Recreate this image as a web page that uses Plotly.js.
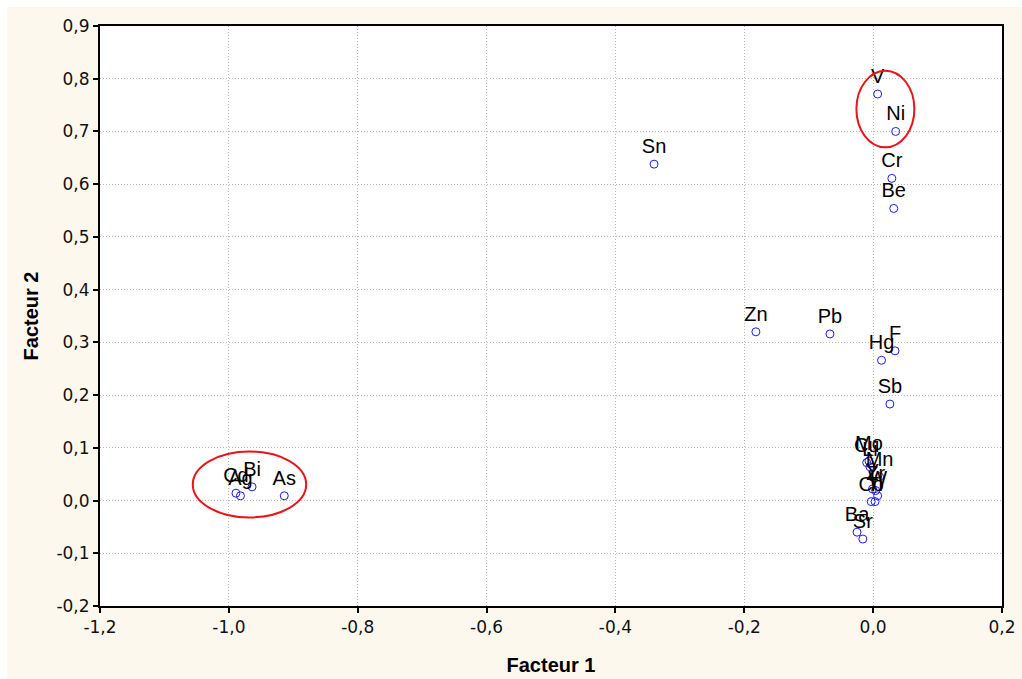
<!DOCTYPE html>
<html>
<head>
<meta charset="utf-8">
<script src="https://cdn.plot.ly/plotly-3.0.1.min.js"></script>
<style>
  html, body { margin: 0; padding: 0; background: #ffffff; width: 1022px; height: 679px; overflow: hidden; }
  #chart { position: absolute; left: 7px; top: 7px; width: 1015px; height: 672px; }
</style>
</head>
<body>
<div id="chart"></div>
<script>
// Element labels and factor loadings
const elements = ["Sn","Zn","Pb","V","Ni","Cr","Be","F","Hg","Sb",
                  "Cd","Ag","Bi","As",
                  "Mo","Cu","Li","Mn","Zr","Y","W","Co","Ti","Ba","Sr"];
const facteur1 = [-0.340,-0.182,-0.067,0.007,0.035,0.029,0.032,0.034,0.013,0.026,
                  -0.989,-0.982,-0.964,-0.914,
                  -0.0065,-0.010,-0.005,0.010,0.004,-0.001,0.007,-0.003,0.003,-0.025,-0.016];
const facteur2 = [0.638,0.320,0.316,0.771,0.700,0.611,0.554,0.284,0.266,0.183,
                  0.014,0.009,0.026,0.009,
                  0.075,0.072,0.064,0.045,0.019,0.022,0.009,-0.002,-0.002,-0.060,-0.073];

const xTickVals = [-1.2,-1.0,-0.8,-0.6,-0.4,-0.2,0.0,0.2];
const xTickText = ["-1,2","-1,0","-0,8","-0,6","-0,4","-0,2","0,0","0,2"];
const yTickVals = [-0.2,-0.1,0.0,0.1,0.2,0.3,0.4,0.5,0.6,0.7,0.8,0.9];
const yTickText = ["-0,2","-0,1","0,0","0,1","0,2","0,3","0,4","0,5","0,6","0,7","0,8","0,9"];

// Highlight ellipses (data coordinates)
const ellipseLeft  = {x0:-1.056, x1:-0.880, y0:-0.032, y1:0.093};
const ellipseRight = {x0:-0.026, x1:0.064, y0:0.670, y1:0.815};

const trace = {
  type: "scatter",
  mode: "markers+text",
  x: facteur1,
  y: facteur2,
  text: elements,
  textposition: "top center",
  textfont: {family: "Liberation Sans, Arial, sans-serif", size: 20, color: "#000000"},
  marker: {symbol: "circle-open", size: 8, color: "#1a1aff", line: {width: 1, color: "#1a1aff"}},
  cliponaxis: false,
  hoverinfo: "x+y+text"
};

const axisCommon = {
  showline: true, mirror: true, linecolor: "#000000", linewidth: 2,
  ticks: "outside", ticklen: 5, tickwidth: 2, tickcolor: "#000000",
  showgrid: true, gridcolor: "#b8b8b8", griddash: "1px,2px", gridwidth: 1,
  zeroline: false,
  tickfont: {family: "DejaVu Sans, sans-serif", size: 17, color: "#111111"},
  tickmode: "array"
};

const titleFont = {family: "Liberation Sans, Arial, sans-serif", size: 20, color: "#000000", weight: "bold"};

const layout = {
  width: 1015, height: 672,
  margin: {l: 93, r: 20, t: 19, b: 73},
  paper_bgcolor: "#fdf8ee",
  plot_bgcolor: "#ffffff",
  showlegend: false,
  xaxis: Object.assign({}, axisCommon, {
    range: [-1.2, 0.2], tickvals: xTickVals, ticktext: xTickText,
    title: {text: "Facteur 1", font: titleFont, standoff: 22}
  }),
  yaxis: Object.assign({}, axisCommon, {
    range: [-0.2, 0.9], tickvals: yTickVals, ticktext: yTickText,
    title: {text: "Facteur 2", font: titleFont, standoff: 12}
  }),
  shapes: [
    Object.assign({type: "circle", xref: "x", yref: "y", line: {color: "#e8141a", width: 2}}, ellipseLeft),
    Object.assign({type: "circle", xref: "x", yref: "y", line: {color: "#e8141a", width: 2}}, ellipseRight)
  ]
};

Plotly.newPlot("chart", [trace], layout, {displayModeBar: false});
</script>
</body>
</html>
